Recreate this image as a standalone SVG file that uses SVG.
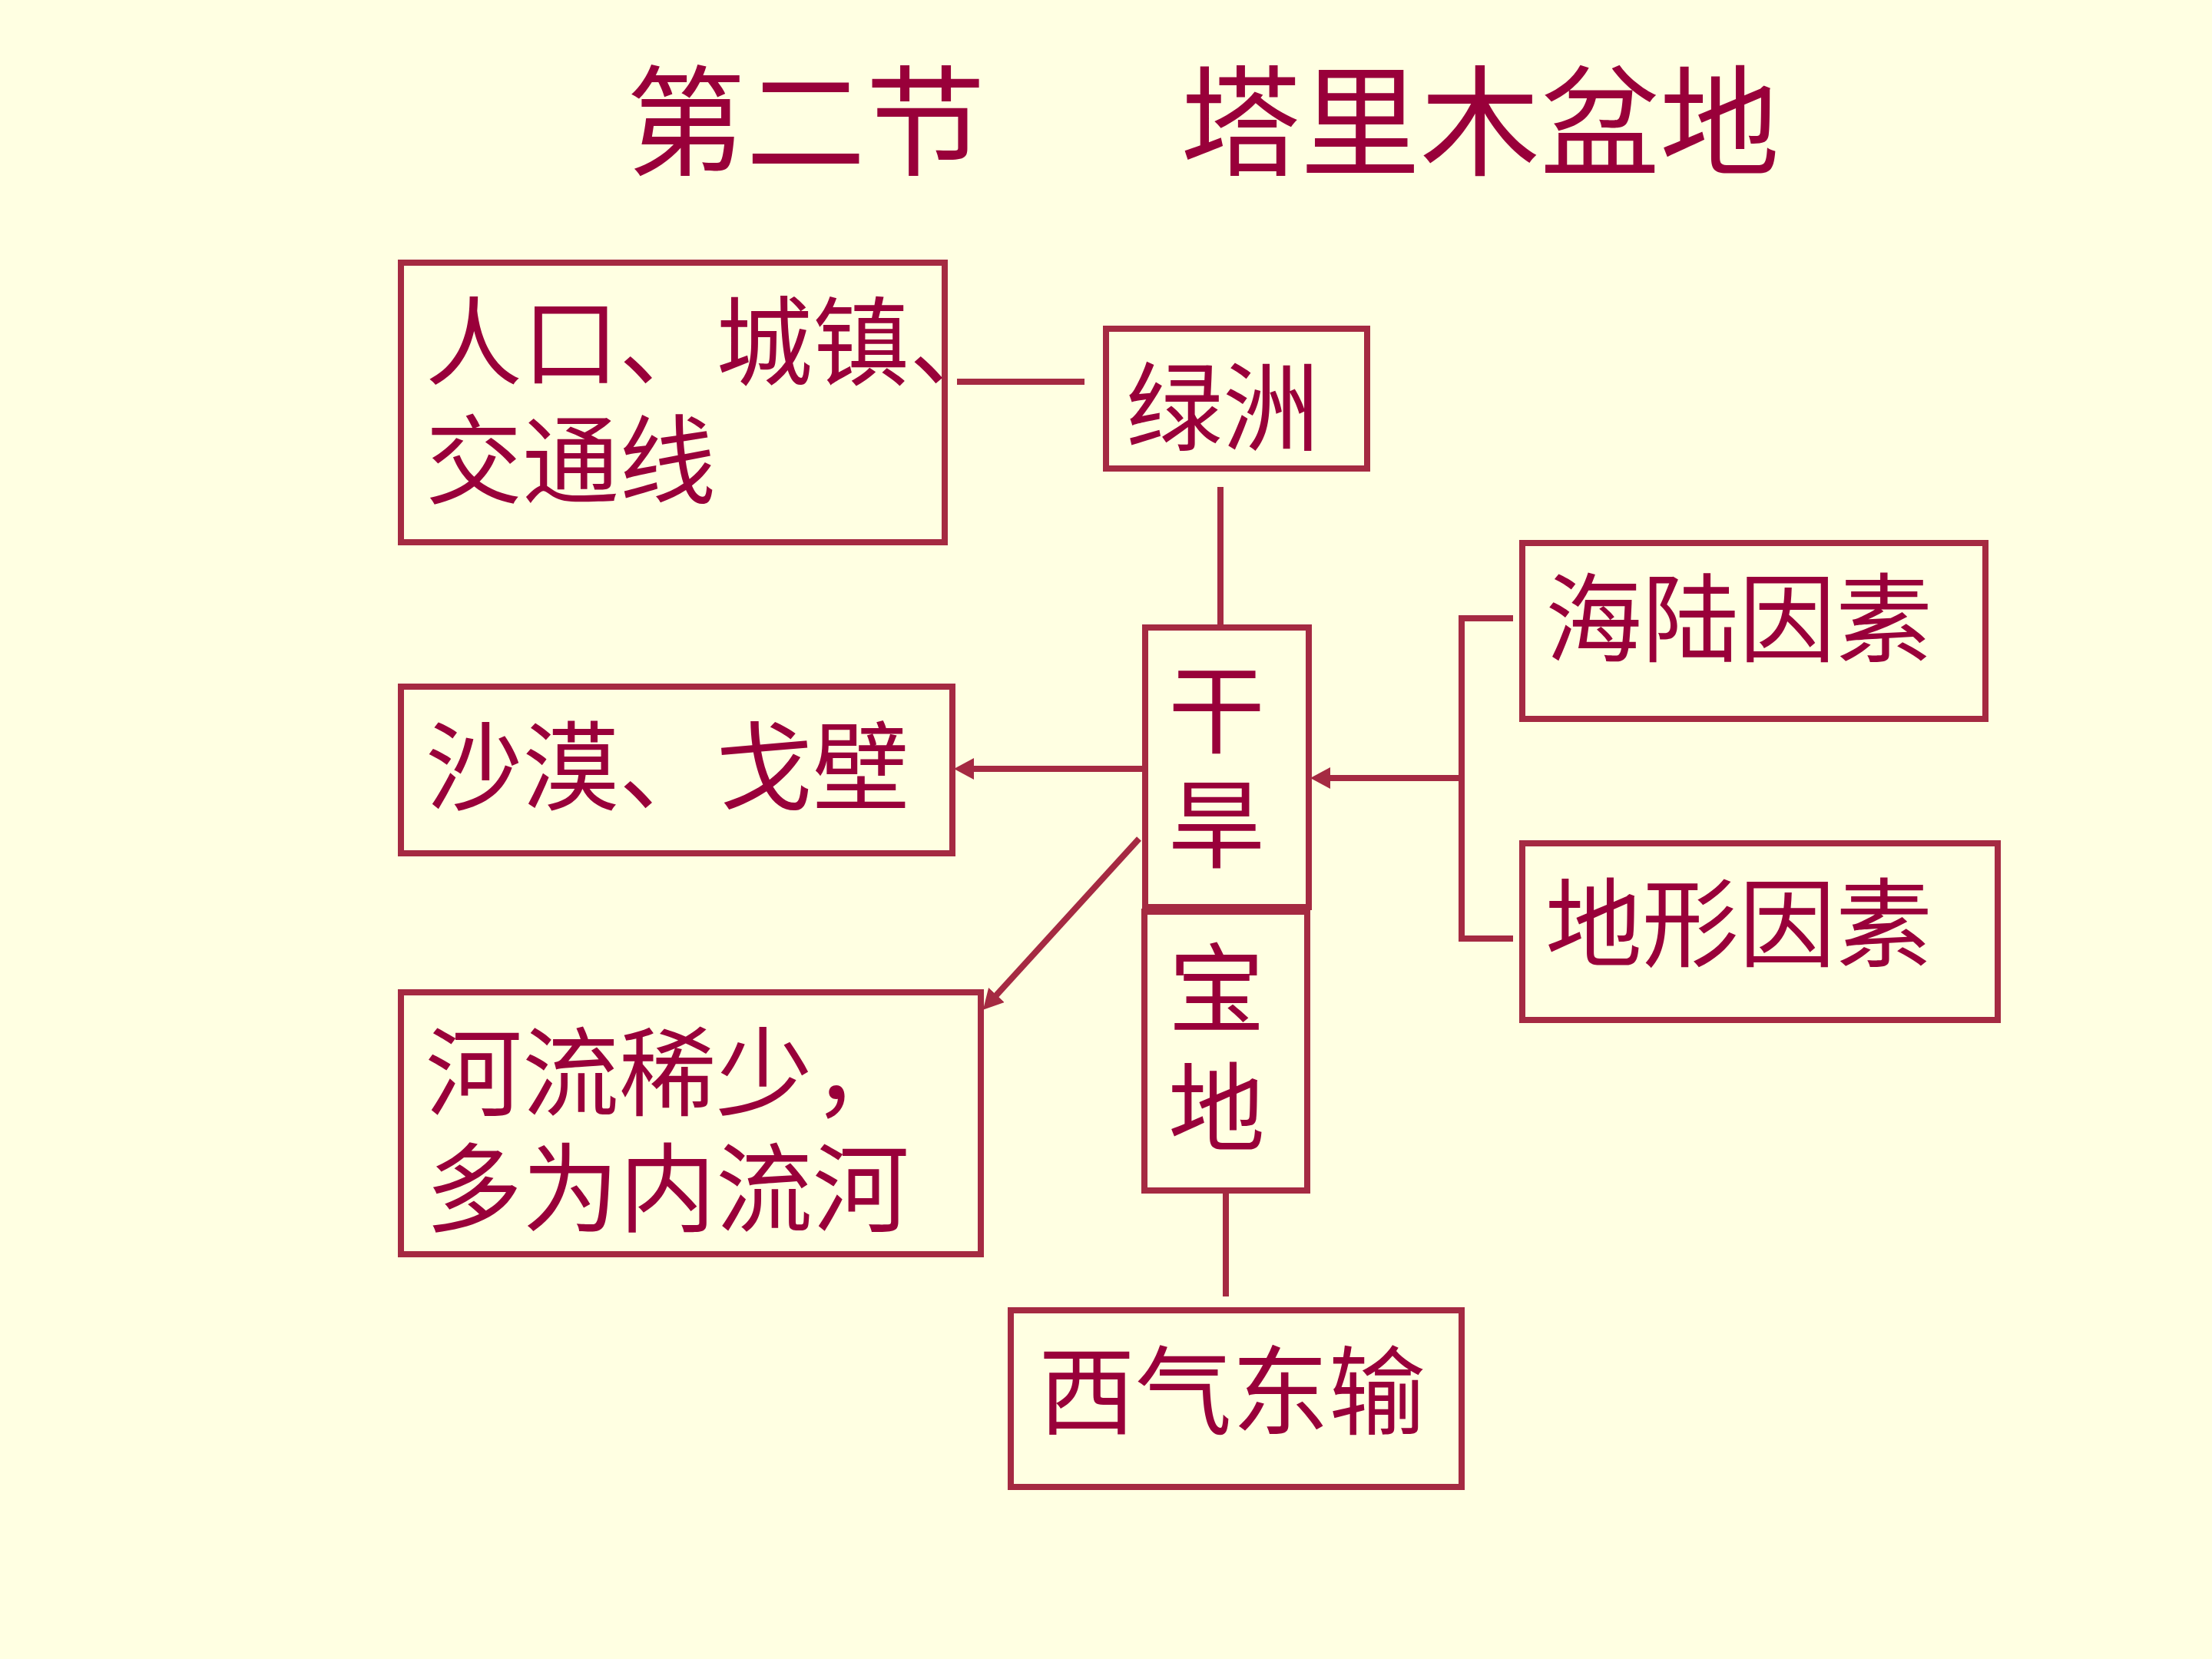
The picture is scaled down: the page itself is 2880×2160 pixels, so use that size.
<svg xmlns="http://www.w3.org/2000/svg" width="2880" height="2160" viewBox="0 0 2880 2160">
<style>
.box{fill:none;stroke:#A52A42;stroke-width:8}
.lbl{fill:#99003A;font-family:"Noto Sans CJK SC","Noto Sans CJK TC",sans-serif;font-size:126px}
.title{fill:#99003A;font-family:"Noto Sans CJK SC","Noto Sans CJK TC",sans-serif;font-size:156px}
.ln{fill:none;stroke:#A52A42;stroke-width:8;stroke-linecap:butt}
</style>
<defs>
<marker id="arr" viewBox="0 0 26 28" markerWidth="26" markerHeight="28" refX="17" refY="14" orient="auto" markerUnits="userSpaceOnUse">
<path d="M0,0 L26,14 L0,28 Z" fill="#A52A42"/>
</marker>
</defs>
<rect x="0" y="0" width="2880" height="2160" fill="#FFFFE2"/>
<g id="title">
<text class="title" x="815" y="216">第二节</text>
<text class="title" x="1537" y="216">塔里木盆地</text>
</g>
<g id="connectors">
<line class="ln" x1="1246" y1="497" x2="1412" y2="497"/>
<line class="ln" x1="1589" y1="634" x2="1589" y2="817"/>
<line class="ln" x1="1488" y1="1001" x2="1251" y2="1001" marker-end="url(#arr)"/>
<line class="ln" x1="1903" y1="1013" x2="1715" y2="1013" marker-end="url(#arr)"/>
<line class="ln" x1="1483" y1="1092" x2="1286" y2="1308" marker-end="url(#arr)"/>
<polyline class="ln" points="1970,805 1903,805 1903,1222 1970,1222"/>
<line class="ln" x1="1596" y1="1553" x2="1596" y2="1688"/>
</g>
<g id="node-renkou">
<rect class="box" x="522" y="342" width="708" height="364"/>
<text class="lbl" x="554" y="492">人口、城镇、</text>
<text class="lbl" x="554" y="646">交通线</text>
</g>
<g id="node-lvzhou">
<rect class="box" x="1440" y="428" width="340" height="182"/>
<text class="lbl" x="1466" y="577">绿洲</text>
</g>
<g id="node-ganhan">
<rect class="box" x="1491" y="817" width="213" height="364"/>
<text class="lbl" x="1584" y="971" text-anchor="middle">干</text>
<text class="lbl" x="1584" y="1120" text-anchor="middle">旱</text>
</g>
<g id="node-baodi">
<rect class="box" x="1490" y="1187" width="212" height="363"/>
<text class="lbl" x="1584" y="1334" text-anchor="middle">宝</text>
<text class="lbl" x="1584" y="1489" text-anchor="middle">地</text>
</g>
<g id="node-shamo">
<rect class="box" x="522" y="894" width="718" height="217"/>
<text class="lbl" x="554" y="1045">沙漠、戈壁</text>
</g>
<g id="node-heliu">
<rect class="box" x="522" y="1292" width="755" height="341"/>
<text class="lbl" x="554" y="1443">河流稀少，</text>
<text class="lbl" x="554" y="1594">多为内流河</text>
</g>
<g id="node-hailu">
<rect class="box" x="1982" y="707" width="603" height="229"/>
<text class="lbl" x="2012" y="852">海陆因素</text>
</g>
<g id="node-dixing">
<rect class="box" x="1982" y="1098" width="619" height="230"/>
<text class="lbl" x="2012" y="1249">地形因素</text>
</g>
<g id="node-xiqi">
<rect class="box" x="1316" y="1706" width="587" height="230"/>
<text class="lbl" x="1352" y="1858">西气东输</text>
</g>
</svg>
